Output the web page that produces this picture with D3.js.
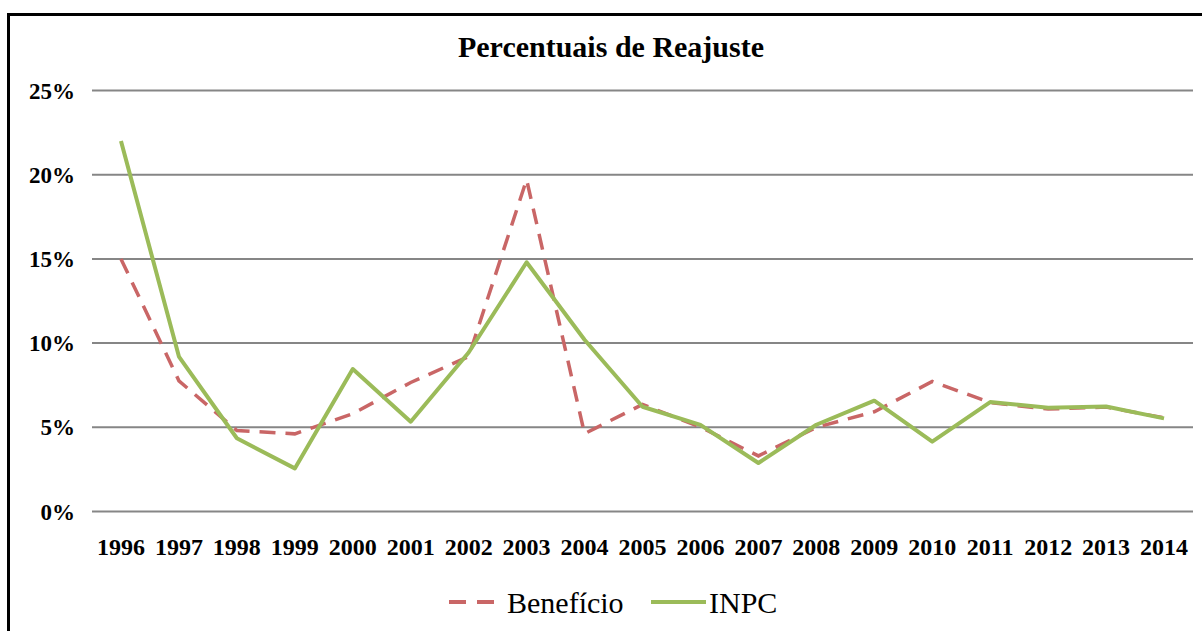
<!DOCTYPE html>
<meta charset="utf-8">
<style>
body { margin: 0; background: #fff; }
.tick-label { font: bold 23px "Liberation Serif", "Times New Roman", serif; fill: #000; }
.year-label { font: bold 24px "Liberation Serif", "Times New Roman", serif; fill: #000; }
.title { font: bold 30px "Liberation Serif", "Times New Roman", serif; text-anchor: middle; }
.legend { font: 30px "Liberation Serif", "Times New Roman", serif; }
</style>
<svg width="1202" height="631"></svg>
<script src="https://cdn.jsdelivr.net/npm/d3@7"></script>
<script>

var years = ["1996","1997","1998","1999","2000","2001","2002","2003","2004","2005",
             "2006","2007","2008","2009","2010","2011","2012","2013","2014"];
var beneficio = [15.0, 7.76, 4.81, 4.61, 5.81, 7.66, 9.20, 19.71, 4.62, 6.36,
                 5.01, 3.30, 5.00, 5.92, 7.72, 6.47, 6.08, 6.20, 5.56];
var inpc = [22.0, 9.2, 4.35, 2.56, 8.46, 5.33, 9.44, 14.8, 10.2, 6.22,
            5.14, 2.88, 5.15, 6.58, 4.15, 6.5, 6.16, 6.24, 5.53];
var yTicks = [0, 5, 10, 15, 20, 25];

var svg = d3.select("svg");

// outer frame (only top and left edges visible)
svg.append("path")
    .attr("d", "M8.5,631 L8.5,14.5 L1202,14.5")
    .attr("fill", "none")
    .attr("stroke", "#000")
    .attr("stroke-width", 3);

var x = d3.scaleBand().domain(years).range([92, 1193]);
var y = d3.scaleLinear().domain([0, 25]).range([511.5, 90.5]);

// gridlines
svg.append("g").selectAll("line")
    .data(yTicks)
  .enter().append("line")
    .attr("x1", 92).attr("x2", 1193)
    .attr("y1", function(d) { return y(d); })
    .attr("y2", function(d) { return y(d); })
    .attr("stroke", "#868686")
    .attr("stroke-width", 2);

// y labels
svg.append("g").selectAll("text")
    .data(yTicks)
  .enter().append("text")
    .attr("class", "tick-label")
    .attr("x", 75)
    .attr("y", function(d) { return y(d) + 8; })
    .attr("text-anchor", "end")
    .text(function(d) { return d + "%"; });

// x labels
svg.append("g").selectAll("text")
    .data(years)
  .enter().append("text")
    .attr("class", "year-label")
    .attr("x", function(d) { return x(d) + x.bandwidth() / 2; })
    .attr("y", 555)
    .attr("text-anchor", "middle")
    .text(function(d) { return d; });

var line = d3.line()
    .x(function(d, i) { return x(years[i]) + x.bandwidth() / 2; })
    .y(function(d) { return y(d); });

svg.append("path")
    .datum(beneficio)
    .attr("d", line)
    .attr("fill", "none")
    .attr("stroke", "#c96666")
    .attr("stroke-width", 3.5)
    .attr("stroke-dasharray", "16,10");

svg.append("path")
    .datum(inpc)
    .attr("d", line)
    .attr("fill", "none")
    .attr("stroke", "#9bbb59")
    .attr("stroke-width", 4)
    .attr("stroke-linejoin", "round");

svg.append("text")
    .attr("class", "title")
    .attr("x", 611)
    .attr("y", 57)
    .text("Percentuais de Reajuste");

// legend
var leg = svg.append("g");
leg.append("line")
    .attr("x1", 449).attr("x2", 494).attr("y1", 602).attr("y2", 602)
    .attr("stroke", "#c96666").attr("stroke-width", 4)
    .attr("stroke-dasharray", "17,11");
leg.append("text").attr("class", "legend").attr("x", 507).attr("y", 613).text("Benefício");
leg.append("line")
    .attr("x1", 651).attr("x2", 706).attr("y1", 602).attr("y2", 602)
    .attr("stroke", "#9bbb59").attr("stroke-width", 4);
leg.append("text").attr("class", "legend").attr("x", 709).attr("y", 613).text("INPC");

</script>
